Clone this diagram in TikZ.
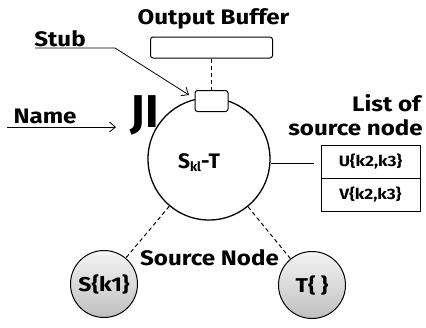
\documentclass[tikz,border=0pt]{standalone}
\usepackage{fontspec}
\setmainfont{Fira Sans}[FakeStretch=1.15]
\newfontfamily\plainfont{Fira Sans}
\usetikzlibrary{arrows.meta}
\begin{document}
\begin{tikzpicture}[x=1pt,y=-1pt,
  lbl/.style={font=\bfseries\fontsize{21}{21}\selectfont, inner sep=0pt},
  small/.style={font=\bfseries\fontsize{15}{15}\selectfont},
  box/.style={draw, line width=1pt},
  rbox/.style={draw, line width=1pt, rounded corners=2.5pt, fill=white, inner sep=0pt},
  conn/.style={line width=1pt},
  dconn/.style={line width=1pt, dash pattern=on 4pt off 3pt},
  pointer/.style={line width=0.8pt, -{Straight Barb[length=6pt,width=10pt,line width=0.8pt]}},
  ball/.style={circle, draw, line width=1pt, minimum size=67pt, inner sep=0pt,
    top color=gray!8, bottom color=gray!50, font=\bfseries\fontsize{20}{20}\selectfont}]
\useasboundingbox (0,0) rectangle (426,327);

% output buffer
\node[lbl] (oblbl) at (213.5,19) {Output Buffer};
\node[rbox, minimum width=122pt, minimum height=21pt] (ob) at (211.5,47.5) {};

% main node
\node[circle, draw, line width=1.3pt, minimum size=122pt, inner sep=0pt] (main) at (209,159) {};
\node[font=\plainfont\bfseries\fontsize{21}{21}\selectfont, inner sep=0pt] (mainlbl) at (199,163)
  {S\raisebox{-3pt}{\fontsize{13}{13}\selectfont kl}-T};
\node[rbox, minimum width=33pt, minimum height=21pt] (stub) at (211.5,101) {};
\draw[dconn] (ob.south) -- (stub.north);

% JI
\node[font=\plainfont\bfseries\fontsize{46}{46}\selectfont, inner sep=0pt] (ji) at (145,115) {JI};

% Name pointer
\node[lbl] (name) at (45,116) {Name};
\coordinate (nameL) at (7,127);
\coordinate (nameT) at (116,127);
\draw[pointer] (nameL) -- (nameT);

% Stub pointer
\node[lbl] (stublbl) at (60,39) {Stub};
\coordinate (stubL) at (35,48);
\coordinate (stubK) at (115,48);
\coordinate (stubT) at (189,95);
\draw[pointer] (stubL) -- (stubK) -- (stubT);

% list of source node
\node[lbl, anchor=east] (listof) at (421,103) {List of};
\node[lbl, anchor=east] (srcnode) at (423,128) {source node};
\node[box, small, minimum width=99pt, minimum height=33pt, inner sep=0pt] (ucell) at (370.5,161.5) {U\{k2,k3\}};
\node[box, small, minimum width=99pt, minimum height=33pt, inner sep=0pt] (vcell) at (370.5,194.5) {V\{k2,k3\}};
\draw[conn] (main.east |- 0,163) -- ([xshift=-7pt]ucell.west |- 0,163);

% source nodes
\node[ball] (s) at (104,284) {S\{k1\}};
\node[ball] (t) at (312,285) {T\{ \}};
\draw[dconn] (main) -- (s);
\draw[dconn] (main) -- (t);
\node[lbl] (srclbl) at (209.5,258) {Source Node};
\end{tikzpicture}
\end{document}
